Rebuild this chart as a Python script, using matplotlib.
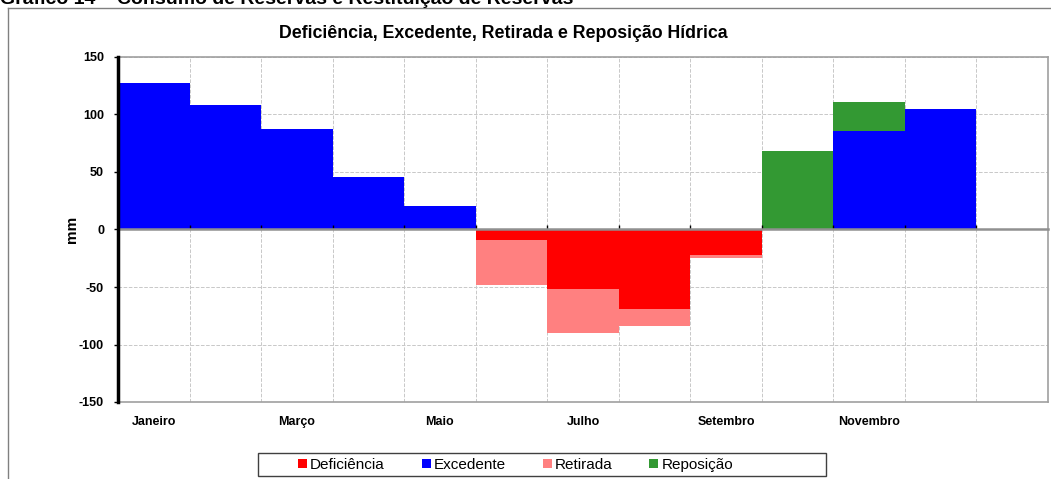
import numpy as np
import matplotlib
matplotlib.use('Agg')
import matplotlib.pyplot as plt
from matplotlib.patches import Patch, Rectangle
from matplotlib.lines import Line2D

plt.rcParams['font.family'] = ['Liberation Sans', 'DejaVu Sans']

# Balanço hídrico mensal (mm)
meses = ['Janeiro', 'Fevereiro', 'Março', 'Abril', 'Maio', 'Junho',
         'Julho', 'Agosto', 'Setembro', 'Outubro', 'Novembro', 'Dezembro']
excedente = [127, 108, 87, 46, 20, 0, 0, 0, 0, 0, 86, 105]
reposicao = [0, 0, 0, 0, 0, 0, 0, 0, 0, 68, 25, 0]
deficiencia = [0, 0, 0, 0, 0, -9, -52, -69, -22, 0, 0, 0]
retirada = [0, 0, 0, 0, 0, -39, -38, -15, -3, 0, 0, 0]

cores = {'Deficiência': '#ff0000', 'Excedente': '#0000ff',
         'Retirada': '#ff8080', 'Reposição': '#339933'}

W, H = 1051, 479
fig = plt.figure(figsize=(W / 100, H / 100), dpi=100)
ax = fig.add_axes([118 / W, 1 - 402 / H, 930 / W, 345 / H])

x = np.arange(len(meses))
ax.bar(x, excedente, width=1, align='edge', color=cores['Excedente'], zorder=3)
ax.bar(x, reposicao, width=1, align='edge', bottom=excedente,
       color=cores['Reposição'], zorder=3)
ax.bar(x, deficiencia, width=1, align='edge', color=cores['Deficiência'], zorder=3)
ax.bar(x, retirada, width=1, align='edge', bottom=deficiencia,
       color=cores['Retirada'], zorder=3)

ax.set_xlim(0, 13)
ax.set_ylim(-150, 150)
ax.set_yticks([-150, -100, -50, 0, 50, 100, 150])
ax.set_yticklabels(['-150', '-100', '-50', '0', '50', '100', '150'],
                   fontsize=9, fontweight='bold')
ax.tick_params(axis='y', length=3, width=1, color='black', pad=7)

# rótulos só nos meses ímpares, no centro de cada coluna
ax.set_xticks(x[::2] + 0.5)
ax.set_xticklabels(meses[::2], fontsize=9, fontweight='bold')
ax.tick_params(axis='x', length=0, pad=10)

# grade tracejada nas divisões entre meses
ax.set_xticks(np.arange(1, 13), minor=True)
ax.tick_params(axis='x', which='minor', length=0)
ax.grid(True, which='minor', axis='x', linestyle='--', color='#c8c8c8',
        linewidth=0.7, zorder=0)
ax.grid(True, which='major', axis='y', linestyle='--', color='#c8c8c8',
        linewidth=0.7, zorder=0)

for lado in ['top', 'right', 'bottom']:
    ax.spines[lado].set_color('#a0a0a0')
    ax.spines[lado].set_linewidth(1.2)
ax.spines['left'].set_color('black')
ax.spines['left'].set_linewidth(2.5)
ax.spines['left'].set_zorder(5)

# eixo das categorias cruzando em zero
eixo0 = ax.secondary_xaxis(0.5)
eixo0.set_xticks(np.arange(0, 13))
eixo0.tick_params(axis='x', length=3, width=1, color='black', direction='in',
                  labelbottom=False, labeltop=False, top=False, bottom=True)
for sp in eixo0.spines.values():
    sp.set_color('#909090')
    sp.set_linewidth(1.8)
    sp.set_linestyle('-')
eixo0.set_zorder(4)

ax.set_ylabel('mm', fontsize=11, fontweight='bold', labelpad=0)

fig.text(503 / W, 1 - 33 / H, 'Deficiência, Excedente, Retirada e Reposição Hídrica',
         ha='center', va='center', fontsize=12.8, fontweight='bold')
fig.text(0.0, 1 - 4 / H, 'Gráfico 14 – Consumo de Reservas e Restituição de Reservas',
         ha='left', va='baseline', fontsize=14, fontweight='bold')

# moldura da área do gráfico
fig.add_artist(Line2D([8 / W, 1.0], [1 - 8 / H, 1 - 8 / H],
                      transform=fig.transFigure, color='#808080', linewidth=1))
fig.add_artist(Line2D([8 / W, 8 / W], [0, 1 - 8 / H],
                      transform=fig.transFigure, color='#808080', linewidth=1))

# caixa da legenda
fig.add_artist(Rectangle((258 / W, 1 - 476 / H), 568 / W, 23 / H,
                         transform=fig.transFigure, facecolor='white',
                         edgecolor='#404040', linewidth=1))
handles = [Patch(facecolor=c, edgecolor='none', label=k) for k, c in cores.items()]
leg = fig.legend(handles=handles, loc='center left',
                 bbox_to_anchor=(298 / W, 1 - 465 / H),
                 ncol=4, fontsize=11, frameon=False,
                 handlelength=0.6, handleheight=0.6, handletextpad=0.2,
                 columnspacing=2.4, borderpad=0, borderaxespad=0)

fig.savefig('out.png', dpi=100)
